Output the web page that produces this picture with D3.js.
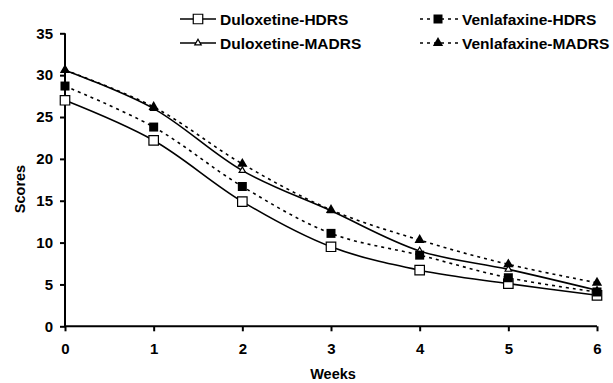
<!DOCTYPE html>
<html><head><meta charset="utf-8">
<script src="https://cdn.jsdelivr.net/npm/d3@7"></script>
<style>body{margin:0;background:#fff}svg{display:block;font-family:"Liberation Sans",Arial,sans-serif;font-weight:bold}</style>
</head><body>
<script>
const weeks = [0,1,2,3,4,5,6];
const duloxetineHDRS = [27.0,22.2,14.9,9.5,6.7,5.1,3.7];
const venlafaxineHDRS = [28.7,23.8,16.7,11.1,8.5,5.8,4.1];
const duloxetineMADRS = [30.6,26.0,18.6,13.8,9.0,6.8,4.3];
const venlafaxineMADRS = [30.6,26.2,19.4,13.9,10.3,7.4,5.2];
const yTicks = [0,5,10,15,20,25,30,35];
const seriesNames = ["Duloxetine-HDRS","Duloxetine-MADRS","Venlafaxine-HDRS","Venlafaxine-MADRS"];

const W=613,H=383;
const svg=d3.select("body").append("svg").attr("width",W).attr("height",H);
const x=d3.scaleLinear().domain([0,6]).range([65,597]);
const y=d3.scaleLinear().domain([0,35]).range([326.3,33.3]);

const series=[
 {name:seriesNames[0],vals:duloxetineHDRS,dash:null,marker:"sqOpen"},
 {name:seriesNames[1],vals:duloxetineMADRS,dash:null,marker:"triOpen"},
 {name:seriesNames[2],vals:venlafaxineHDRS,dash:"3,4",marker:"sqFill"},
 {name:seriesNames[3],vals:venlafaxineMADRS,dash:"3,4",marker:"triFill"}
];

// axes
const yAxis=svg.append("g").attr("transform","translate(65,0)")
 .call(d3.axisLeft(y).tickValues(yTicks).tickFormat(d3.format("d")).tickSize(5).tickPadding(7));
const xAxis=svg.append("g").attr("transform","translate(0,326.3)")
 .call(d3.axisBottom(x).tickValues(weeks).tickFormat(d3.format("d")).tickSize(5).tickPadding(12));
[yAxis,xAxis].forEach(a=>{
 a.select(".domain").attr("stroke","#000").attr("stroke-width",2);
 a.selectAll(".tick line").attr("stroke","#000").attr("stroke-width",2);
 a.selectAll("text").attr("font-size",15).attr("font-weight","bold").attr("fill","#000")
  .attr("font-family","'Liberation Sans',Arial,sans-serif");
});
xAxis.select(".domain").attr("d",`M${x(0)},0H${x(6)}`);
yAxis.select(".domain").attr("d",`M0,${y(35)}V${y(0)}`);

svg.append("text").attr("x",333).attr("y",379).attr("text-anchor","middle")
 .attr("font-size",14.5).text("Weeks");
svg.append("text").attr("transform","translate(25,189) rotate(-90)").attr("text-anchor","middle")
 .attr("font-size",14.5).text("Scores");

const line=d3.line().x((d,i)=>x(weeks[i])).y(d=>y(d)).curve(d3.curveCatmullRom.alpha(0.5));
const sym={
 sqOpen:d3.symbol().type(d3.symbolSquare).size(90),
 sqFill:d3.symbol().type(d3.symbolSquare).size(81),
 triOpen:d3.symbol().type(d3.symbolTriangle).size(18),
 triFill:d3.symbol().type(d3.symbolTriangle).size(46)
};
function drawMarker(g,type,cx,cy){
 const p=g.append("path").attr("d",sym[type]()).attr("transform",`translate(${cx},${cy})`);
 if(type==="sqOpen"||type==="triOpen") p.attr("fill","#fff").attr("stroke","#000").attr("stroke-width",1.2);
 else p.attr("fill","#000");
}
series.forEach(s=>{
 svg.append("path").datum(s.vals).attr("d",line).attr("fill","none").attr("stroke","#000")
  .attr("stroke-width",1.6).attr("stroke-dasharray",s.dash);
});
series.forEach(s=>{
 const g=svg.append("g");
 s.vals.forEach((v,i)=>drawMarker(g,s.marker,x(weeks[i]),y(v)));
});

// legend
const leg=[
 {s:series[0],lx:180,ty:19,len:36,mx:198,tx:220},{s:series[1],lx:180,ty:43,len:36,mx:198,tx:220},
 {s:series[2],lx:420,ty:19,len:38,mx:438,tx:462},{s:series[3],lx:420,ty:43,len:38,mx:438,tx:462}
];
leg.forEach(l=>{
 const g=svg.append("g");
 g.append("line").attr("x1",l.lx).attr("x2",l.lx+l.len).attr("y1",l.ty).attr("y2",l.ty)
  .attr("stroke","#000").attr("stroke-width",1.6).attr("stroke-dasharray",l.s.dash);
 drawMarker(g,l.s.marker,l.mx,l.ty);
 g.append("text").attr("x",l.tx).attr("y",l.ty+5.5).attr("font-size",15.5).text(l.s.name);
});
</script>
</body></html>
